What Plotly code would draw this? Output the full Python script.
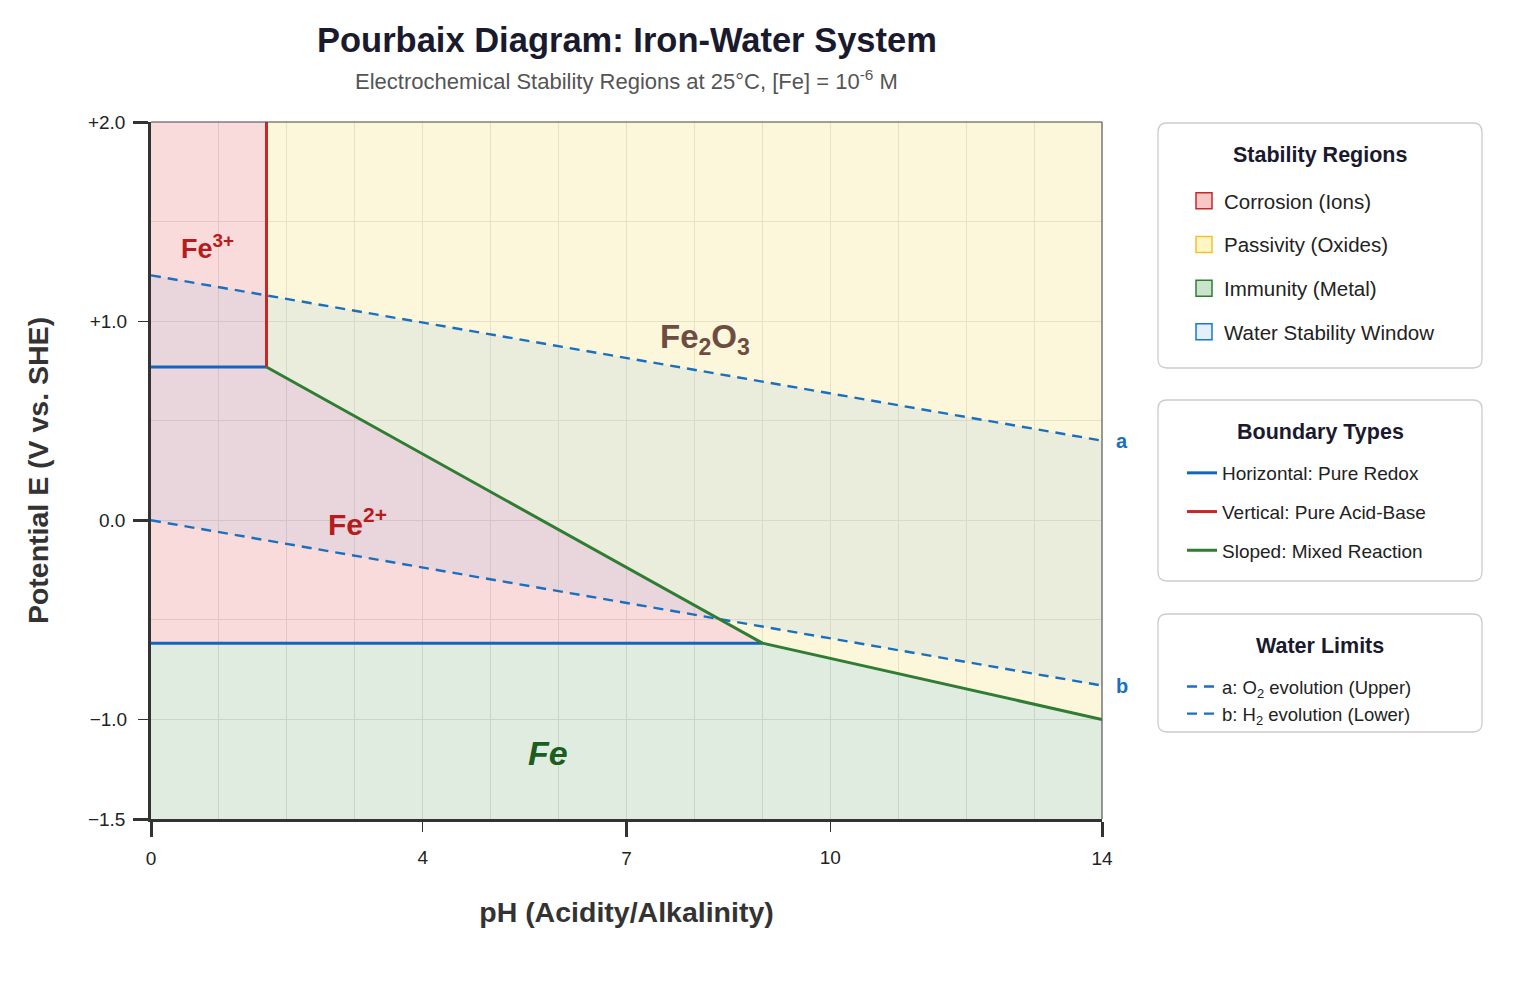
import plotly.graph_objects as go

# ---------------- data ----------------
ph_range = [0, 14]
E_range = [-1.5, 2.0]

E_fe3_fe2 = 0.77        # horizontal Fe3+/Fe2+
E_fe2_fe = -0.617       # horizontal Fe2+/Fe
ph_fe3_oxide = 1.7      # vertical Fe3+/Fe2O3
ph_break = 9.0          # triple point Fe2+/Fe2O3/Fe
E_oxide_fe_ph14 = -1.0  # Fe2O3/Fe at pH 14

water_ph = [0, 14]
water_a_E = [1.23, 0.40]   # O2 evolution
water_b_E = [0.00, -0.83]  # H2 evolution

x_ticks_major = [0, 7, 14]
x_ticks_minor = [4, 10]
y_ticks_major = [2.0, 0.0, -1.5]
y_ticks_major_text = ["+2.0", "0.0", "\u22121.5"]
y_ticks_minor = [1.0, -1.0]
y_ticks_minor_text = ["+1.0", "\u22121.0"]

FONT = "Liberation Sans, Arial, Helvetica, sans-serif"

pmin, pmax = ph_range
emin, emax = E_range

fig = go.Figure()

# ---------------- region fills ----------------
fig.add_trace(go.Scatter(
    x=[pmin, pmax, pmax, ph_break, pmin],
    y=[emin, emin, E_oxide_fe_ph14, E_fe2_fe, E_fe2_fe],
    fill="toself", mode="lines", line=dict(width=0),
    fillcolor="rgba(46,125,50,0.15)", showlegend=False, hoverinfo="skip"))
fig.add_trace(go.Scatter(
    x=[ph_fe3_oxide, pmax, pmax, ph_break, ph_fe3_oxide],
    y=[emax, emax, E_oxide_fe_ph14, E_fe2_fe, E_fe3_fe2],
    fill="toself", mode="lines", line=dict(width=0),
    fillcolor="rgba(240,215,90,0.22)", showlegend=False, hoverinfo="skip"))
fig.add_trace(go.Scatter(
    x=[pmin, pmin, ph_fe3_oxide, ph_fe3_oxide, None,
       pmin, ph_fe3_oxide, ph_break, pmin],
    y=[E_fe3_fe2, emax, emax, E_fe3_fe2, None,
       E_fe3_fe2, E_fe3_fe2, E_fe2_fe, E_fe2_fe],
    fill="toself", mode="lines", line=dict(width=0),
    fillcolor="rgba(229,57,53,0.18)", showlegend=False, hoverinfo="skip"))
fig.add_trace(go.Scatter(
    x=[water_ph[0], water_ph[1], water_ph[1], water_ph[0]],
    y=[water_a_E[0], water_a_E[1], water_b_E[1], water_b_E[0]],
    fill="toself", mode="lines", line=dict(width=0),
    fillcolor="rgba(120,180,235,0.13)", showlegend=False, hoverinfo="skip"))

# ---------------- boundary lines ----------------
fig.add_trace(go.Scatter(
    x=water_ph, y=water_a_E, mode="lines",
    line=dict(color="#1a6fbf", width=2.4, dash="10px,7px"),
    name="a: O<sub>2</sub> evolution (Upper)", legend="legend3", legendgroup="wa"))
fig.add_trace(go.Scatter(
    x=water_ph, y=water_b_E, mode="lines",
    line=dict(color="#1a6fbf", width=2.4, dash="10px,7px"),
    name="b: H<sub>2</sub> evolution (Lower)", legend="legend3", legendgroup="wb"))

fig.add_trace(go.Scatter(
    x=[pmin, ph_fe3_oxide, None, pmin, ph_break],
    y=[E_fe3_fe2, E_fe3_fe2, None, E_fe2_fe, E_fe2_fe],
    mode="lines", line=dict(color="#1565C0", width=3),
    name="Horizontal: Pure Redox", legend="legend2", legendgroup="h"))
fig.add_trace(go.Scatter(
    x=[ph_fe3_oxide, ph_fe3_oxide], y=[E_fe3_fe2, emax],
    mode="lines", line=dict(color="#C62828", width=3),
    name="Vertical: Pure Acid-Base", legend="legend2", legendgroup="v"))
fig.add_trace(go.Scatter(
    x=[ph_fe3_oxide, ph_break, pmax], y=[E_fe3_fe2, E_fe2_fe, E_oxide_fe_ph14],
    mode="lines", line=dict(color="#2E7D32", width=3),
    name="Sloped: Mixed Reaction", legend="legend2", legendgroup="s"))

# ---------------- legend swatches for regions ----------------
swatches = [
    ("Corrosion (Ions)", "#F9C6C6", "#C62828"),
    ("Passivity (Oxides)", "#FFF6C6", "#F9C02D"),
    ("Immunity (Metal)", "#C9E4CA", "#2E7D32"),
    ("Water Stability Window", "#E3F0FA", "#1976D2"),
]
for i, (nm, fc, lc) in enumerate(swatches):
    fig.add_trace(go.Scatter(
        x=[None], y=[None], mode="markers", name=nm,
        marker=dict(symbol="square", size=16, color=fc, line=dict(color=lc, width=1.5)),
        legend="legend", legendgroup="r%d" % i))

# dummy trace to activate secondary tick axes
fig.add_trace(go.Scatter(x=[None], y=[None], xaxis="x2", yaxis="y2",
                         showlegend=False, hoverinfo="skip"))

# ---------------- annotations ----------------
ann = [
    dict(x=0.83, y=1.37, text="Fe<sup>3+</sup>", font=dict(size=27, color="#B71C1C", family=FONT)),
    dict(x=3.04, y=-0.01, text="Fe<sup>2+</sup>", font=dict(size=30, color="#B71C1C", family=FONT)),
    dict(x=8.16, y=0.91, text="Fe<sub>2</sub>O<sub>3</sub>", font=dict(size=33, color="#6D4C41", family=FONT)),
    dict(x=5.84, y=-1.17, text="<i>Fe</i>", font=dict(size=34, color="#1B5E20", family=FONT)),
]
annotations = []
for a in ann:
    annotations.append(dict(xref="x", yref="y", showarrow=False,
                            x=a["x"], y=a["y"], text="<b>%s</b>" % a["text"], font=a["font"]))
annotations.append(dict(xref="x", yref="y", x=pmax, y=water_a_E[1], xshift=20, showarrow=False,
                        text="<b>a</b>", font=dict(size=20, color="#1a6fbf", family=FONT)))
annotations.append(dict(xref="x", yref="y", x=pmax, y=water_b_E[1], xshift=20, showarrow=False,
                        text="<b>b</b>", font=dict(size=20, color="#1a6fbf", family=FONT)))

W, H = 1530, 996
L, R, T, B = 151, 1102, 122, 819
def px(xp): return (xp - L) / (R - L)
def py(yp): return (B - yp) / (B - T)

# title / subtitle
annotations.append(dict(xref="paper", yref="paper", x=0.5, y=py(40), xanchor="center",
                        yanchor="middle", showarrow=False,
                        text="<b>Pourbaix Diagram: Iron-Water System</b>",
                        font=dict(size=34.5, color="#1a1a2e", family=FONT)))
annotations.append(dict(xref="paper", yref="paper", x=0.5, y=py(80), xanchor="center",
                        yanchor="middle", showarrow=False,
                        text="Electrochemical Stability Regions at 25°C, [Fe] = 10<sup>-6</sup> M",
                        font=dict(size=22, color="#555555", family=FONT)))

# legend box titles
for ttl, ypix in [("Stability Regions", 155), ("Boundary Types", 432), ("Water Limits", 646)]:
    annotations.append(dict(xref="paper", yref="paper", x=px(1320), y=py(ypix), xanchor="center",
                            yanchor="middle", showarrow=False,
                            text="<b>%s</b>" % ttl, font=dict(size=21.5, color="#1a1a2e", family=FONT)))

# ---------------- shapes: legend boxes & plot frame ----------------
def rounded_box(x0, y0, x1, y1, r=9):
    X0, X1 = px(x0), px(x1)
    Yt, Yb = py(y0), py(y1)
    rx, ry = r / (R - L), r / (B - T)
    return ("M %f,%f L %f,%f Q %f,%f %f,%f L %f,%f Q %f,%f %f,%f L %f,%f Q %f,%f %f,%f "
            "L %f,%f Q %f,%f %f,%f Z" % (
                X0 + rx, Yt, X1 - rx, Yt, X1, Yt, X1, Yt - ry,
                X1, Yb + ry, X1, Yb, X1 - rx, Yb,
                X0 + rx, Yb, X0, Yb, X0, Yb + ry,
                X0, Yt - ry, X0, Yt, X0 + rx, Yt))

shapes = []
for box in [(1158, 123, 1482, 368), (1158, 400, 1482, 581), (1158, 614, 1482, 732)]:
    shapes.append(dict(type="path", xref="paper", yref="paper", path=rounded_box(*box),
                       line=dict(color="#cccccc", width=1.3), fillcolor="white", layer="below"))
shapes.append(dict(type="line", xref="x domain", yref="y domain", x0=0, x1=1, y0=1, y1=1,
                   line=dict(color="#444444", width=1.2), layer="above"))
shapes.append(dict(type="line", xref="x domain", yref="y domain", x0=1, x1=1, y0=0, y1=1,
                   line=dict(color="#555555", width=1.2), layer="above"))

# ---------------- layout ----------------
legend_common = dict(bgcolor="rgba(0,0,0,0)", borderwidth=0, xanchor="left", yanchor="top",
                     traceorder="grouped", itemclick=False, itemdoubleclick=False)

tickfont = dict(size=19, color="#222222", family=FONT)

fig.update_layout(
    width=W, height=H,
    margin=dict(l=L, r=W - R, t=T, b=H - B),
    paper_bgcolor="white", plot_bgcolor="white",
    font=dict(family=FONT, color="#222222"),
    annotations=annotations, shapes=shapes,
    legend=dict(**legend_common, x=px(1184), y=py(181), tracegroupgap=14,
                font=dict(size=20.5, color="#222222", family=FONT)),
    legend2=dict(**legend_common, x=px(1182), y=py(454), tracegroupgap=11,
                 font=dict(size=19, color="#222222", family=FONT)),
    legend3=dict(**legend_common, x=px(1182), y=py(668), tracegroupgap=0,
                 font=dict(size=18.5, color="#222222", family=FONT)),
    xaxis=dict(range=ph_range, tickmode="array", tickvals=x_ticks_major,
               ticks="outside", ticklen=15, tickwidth=2.5, tickcolor="#333333",
               ticklabelstandoff=5,
               showline=True, linewidth=2.5, linecolor="#333333",
               showgrid=True, gridcolor="#e4e4e4", gridwidth=1, zeroline=False,
               tickfont=tickfont,
               minor=dict(dtick=1, tick0=0, showgrid=True, gridcolor="#e4e4e4", ticks=""),
               title=dict(text="<b>pH (Acidity/Alkalinity)</b>", standoff=35,
                          font=dict(size=28.5, color="#333333", family=FONT))),
    yaxis=dict(range=E_range, tickmode="array", tickvals=y_ticks_major, ticktext=y_ticks_major_text,
               ticks="outside", ticklen=15, tickwidth=2.5, tickcolor="#333333",
               ticklabelstandoff=4,
               showline=True, linewidth=2.5, linecolor="#333333",
               showgrid=True, gridcolor="#e4e4e4", gridwidth=1, zeroline=False,
               tickfont=tickfont,
               minor=dict(dtick=0.5, tick0=0, showgrid=True, gridcolor="#e4e4e4", ticks=""),
               title=dict(text="<b>Potential E (V vs. SHE)</b>", standoff=31,
                          font=dict(size=28.5, color="#333333", family=FONT))),
    xaxis2=dict(range=ph_range, overlaying="x", anchor="y2", side="bottom", tickmode="array",
                tickvals=x_ticks_minor, ticks="outside", ticklen=12, tickwidth=1,
                ticklabelstandoff=9,
                tickcolor="#333333", showline=False, showgrid=False, zeroline=False,
                tickfont=tickfont),
    yaxis2=dict(range=E_range, overlaying="y", anchor="x2", side="left", tickmode="array",
                tickvals=y_ticks_minor, ticktext=y_ticks_minor_text, ticks="outside",
                ticklen=12, tickwidth=1, tickcolor="#333333", showline=False,
                ticklabelstandoff=7,
                showgrid=False, zeroline=False, tickfont=tickfont),
)

fig.write_html("out.html")
